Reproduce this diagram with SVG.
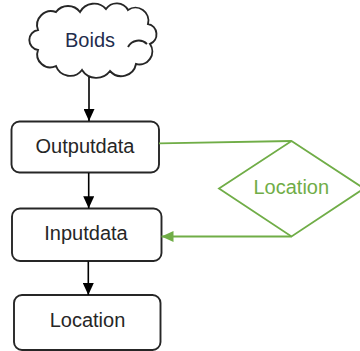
<svg xmlns="http://www.w3.org/2000/svg" width="360" height="351" viewBox="0 0 360 351">
  <style>
    .box { fill: #ffffff; stroke: #262626; stroke-width: 1.9; }
    .label { font-family: "Liberation Sans", Arial, sans-serif; font-size: 20px; fill: #262626; text-anchor: middle; }
    .flow { fill: none; stroke: #000000; stroke-width: 1.6; }
    .alt { fill: none; stroke: #70AD47; stroke-width: 1.8; }
  </style>
  <defs>
    <marker id="arrow-black" markerUnits="userSpaceOnUse" markerWidth="12" markerHeight="11" refX="12" refY="5.5" orient="auto">
      <path d="M0,0 L12,5.5 L0,11 Z" fill="#000000"/>
    </marker>
    <marker id="arrow-green" markerUnits="userSpaceOnUse" markerWidth="12" markerHeight="11" refX="12" refY="5.5" orient="auto">
      <path d="M0,0 L12,5.5 L0,11 Z" fill="#70AD47"/>
    </marker>
  </defs>

  <rect width="360" height="351" fill="#ffffff"/>

  <!-- start: cloud -->
  <g id="boids">
    <path class="box" d="M38,30
      A14 14 0 0 1 56,12
      A15 15 0 0 1 80,12
      A16 16 0 0 1 106,9
      A13 13 0 0 1 128,10
      A13 13 0 0 1 148,24
      A10.5 10.5 0 0 1 150,44
      A13 13 0 0 1 136,64
      A15 15 0 0 1 110,71
      A17 17 0 0 1 82,70
      A15 15 0 0 1 56,66
      A13 13 0 0 1 38,50
      A10.1 10.1 0 0 1 38,30 Z"/>
    <path class="box" fill="none" d="M128,47 A12 12 0 0 1 147,44"/>
    <text class="label" x="90" y="47" style="fill:#1F2D4D">Boids</text>
  </g>

  <g id="outputdata">
    <rect class="box" x="11.5" y="121.5" width="147.5" height="51" rx="8"/>
    <text class="label" x="85" y="152.5">Outputdata</text>
  </g>

  <g id="inputdata">
    <rect class="box" x="12" y="208.5" width="149.5" height="52.5" rx="8"/>
    <text class="label" x="86" y="240">Inputdata</text>
  </g>

  <g id="location">
    <rect class="box" x="14" y="295" width="146.5" height="55" rx="8"/>
    <text class="label" x="87.5" y="327.3">Location</text>
  </g>

  <!-- decision diamond -->
  <g id="location-check">
    <path class="alt" d="M291.5,141 L364,188.5 L291.5,236.5 L219,188.5 Z"/>
    <text class="label" x="291.3" y="194" style="fill:#70AD47">Location</text>
  </g>

  <g id="connectors">
    <path class="flow" d="M89,77 L89,121" marker-end="url(#arrow-black)"/>
    <path class="flow" d="M88.7,173 L88.7,208.3" marker-end="url(#arrow-black)"/>
    <path class="flow" d="M88.3,261.5 L88.3,295" marker-end="url(#arrow-black)"/>
    <path class="alt" d="M159,143.3 L291.5,141"/>
    <path class="alt" d="M291.5,236.5 L161.5,236.5" marker-end="url(#arrow-green)"/>
  </g>
</svg>
